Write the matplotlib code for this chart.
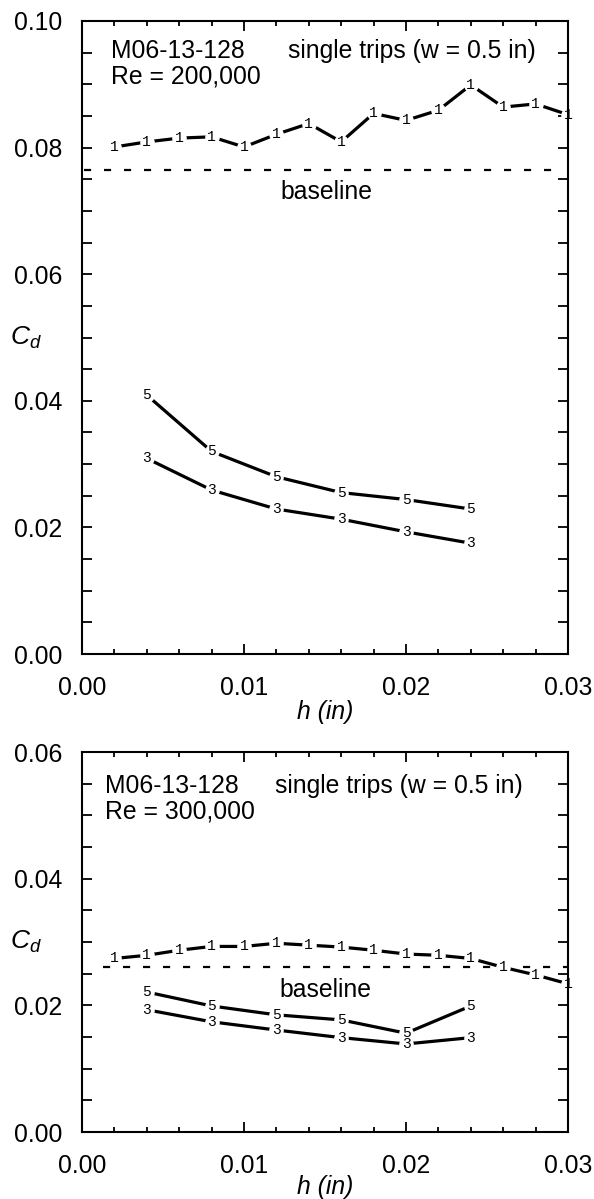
import matplotlib
matplotlib.use('Agg')
import matplotlib.pyplot as plt
from matplotlib.ticker import MultipleLocator, FormatStrFormatter

plt.rcParams['font.family'] = ['Liberation Sans', 'DejaVu Sans']
plt.rcParams['mathtext.fontset'] = 'custom'
plt.rcParams['mathtext.it'] = 'Liberation Sans:italic'
plt.rcParams['mathtext.rm'] = 'Liberation Sans'

# ---- data ----
h_trip1 = [0.002, 0.004, 0.006, 0.008, 0.010, 0.012, 0.014, 0.016,
           0.018, 0.020, 0.022, 0.024, 0.026, 0.028, 0.030]
h_trip35 = [0.004, 0.008, 0.012, 0.016, 0.020, 0.024]

# Re = 200,000
cd_top_1 = [0.0801, 0.0809, 0.0815, 0.0817, 0.0801, 0.0821, 0.0838, 0.0809,
            0.0854, 0.0843, 0.0859, 0.0899, 0.0864, 0.0869, 0.0852]
cd_top_3 = [0.0309, 0.0259, 0.0229, 0.0213, 0.0193, 0.0175]
cd_top_5 = [0.0409, 0.0320, 0.0280, 0.0255, 0.0244, 0.0229]
baseline_top = 0.0765

# Re = 300,000
cd_bot_1 = [0.0274, 0.0279, 0.0287, 0.0293, 0.0293, 0.0298, 0.0295, 0.0292,
            0.0287, 0.0281, 0.0279, 0.0274, 0.0260, 0.0248, 0.0234]
cd_bot_3 = [0.0193, 0.0174, 0.0161, 0.0149, 0.0139, 0.0149]
cd_bot_5 = [0.0221, 0.0199, 0.0185, 0.0177, 0.0156, 0.0199]
baseline_bot = 0.0261

series_labels = ['1', '3', '5']

FS = 17.8

fig = plt.figure(figsize=(5.94, 11.99), dpi=100)
ax1 = fig.add_axes([82/594, 1-654/1199, 486/594, 633/1199])
ax2 = fig.add_axes([82/594, 1-1132/1199, 486/594, 380/1199])


def draw_series(ax, x, y, label):
    ax.plot(x, y, color='black', lw=2.3, zorder=2, solid_capstyle='butt')
    ax.plot(x, y, ls='none', marker='o', ms=10.5, mfc='white', mec='none', zorder=3)
    for xi, yi in zip(x, y):
        ax.text(xi, yi, label, fontsize=10.5, family='Liberation Mono',
                ha='center', va='center', zorder=4, clip_on=False)


def style_axes(ax, ymax, labelpad):
    ax.set_xlim(0, 0.03)
    ax.set_ylim(0, ymax)
    ax.xaxis.set_major_locator(MultipleLocator(0.01))
    ax.xaxis.set_minor_locator(MultipleLocator(0.002))
    ax.yaxis.set_major_locator(MultipleLocator(0.02))
    ax.yaxis.set_minor_locator(MultipleLocator(0.005))
    ax.xaxis.set_major_formatter(FormatStrFormatter('%.2f'))
    ax.yaxis.set_major_formatter(FormatStrFormatter('%.2f'))
    ax.tick_params(which='both', direction='in', top=True, right=True,
                   width=1.3, labelsize=FS)
    ax.tick_params(axis='x', which='major', length=7.2, pad=16)
    ax.tick_params(axis='x', which='minor', length=3.6)
    ax.tick_params(axis='y', which='both', length=7.2, pad=14)
    for s in ax.spines.values():
        s.set_linewidth(1.5)
        s.set_zorder(3.5)
    ax.set_xlabel('h (in)', fontsize=FS, fontstyle='italic', labelpad=labelpad)
    ax.text(-0.115, 0.5, r'$C_d$', transform=ax.transAxes, ha='center',
            va='center', fontsize=19)


# ---- top panel ----
style_axes(ax1, 0.10, 0)
ax1.axhline(baseline_top, xmin=0.005, xmax=0.985, color='black', lw=1.6,
            dashes=(3.2, 5.8), zorder=1)
draw_series(ax1, h_trip1, cd_top_1, series_labels[0])
draw_series(ax1, h_trip35, cd_top_5, series_labels[2])
draw_series(ax1, h_trip35, cd_top_3, series_labels[1])
ax1.text(0.0597, 0.9415, 'M06-13-128', transform=ax1.transAxes, va='baseline', fontsize=FS)
ax1.text(0.0597, 0.902, 'Re = 200,000', transform=ax1.transAxes, va='baseline', fontsize=FS)
ax1.text(0.424, 0.9415, 'single trips (w = 0.5 in)', transform=ax1.transAxes,
         va='baseline', fontsize=FS)
ax1.text(0.0151, 0.0730, 'baseline', ha='center', va='center', fontsize=FS)

# ---- bottom panel ----
style_axes(ax2, 0.06, -2.5)
ax2.axhline(baseline_bot, xmin=0.043, xmax=1.0, color='black', lw=1.6,
            dashes=(3.2, 5.8), zorder=1)
draw_series(ax2, h_trip1, cd_bot_1, series_labels[0])
draw_series(ax2, h_trip35, cd_bot_5, series_labels[2])
draw_series(ax2, h_trip35, cd_bot_3, series_labels[1])
ax2.text(0.047, 0.892, 'M06-13-128', transform=ax2.transAxes, va='baseline', fontsize=FS)
ax2.text(0.047, 0.826, 'Re = 300,000', transform=ax2.transAxes, va='baseline', fontsize=FS)
ax2.text(0.397, 0.892, 'single trips (w = 0.5 in)', transform=ax2.transAxes,
         va='baseline', fontsize=FS)
ax2.text(0.0150, 0.0224, 'baseline', ha='center', va='center', fontsize=FS)

fig.savefig('out.png', dpi=100)
